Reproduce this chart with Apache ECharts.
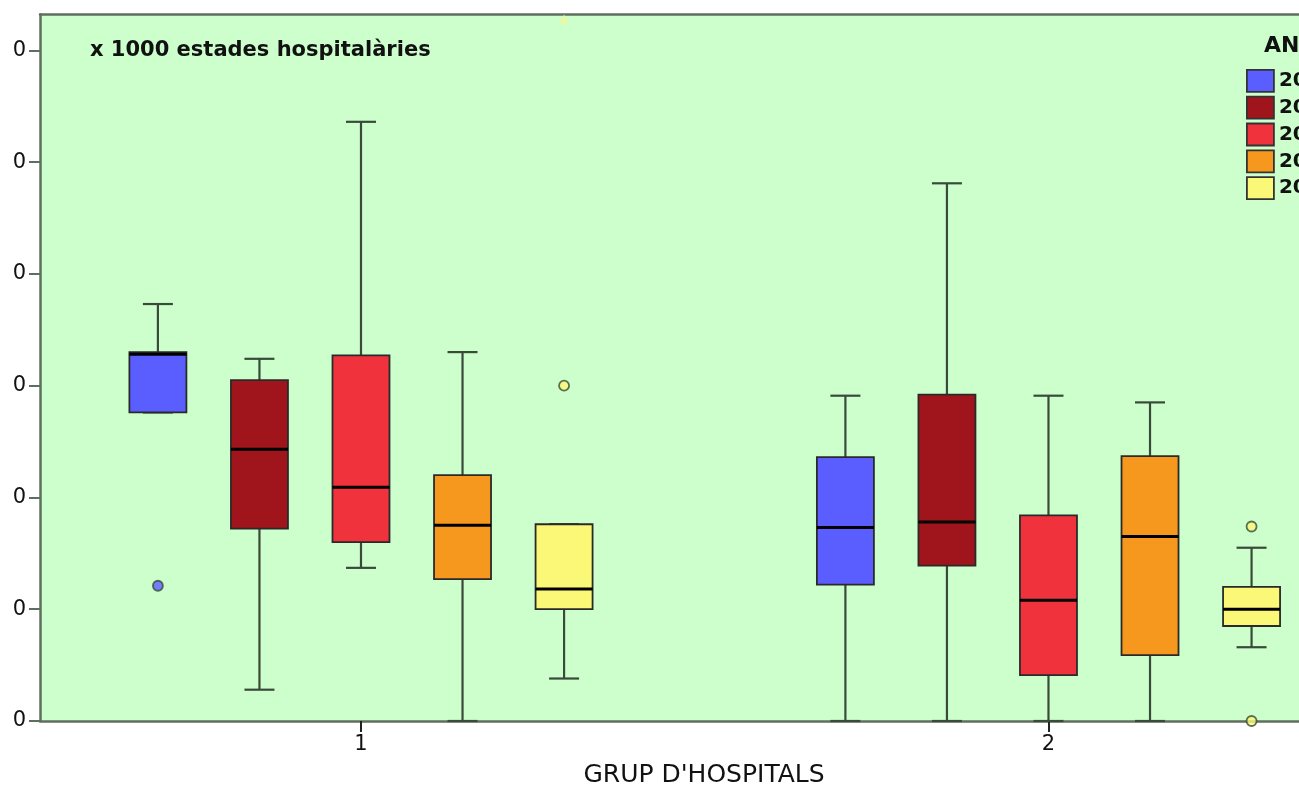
<!DOCTYPE html>
<html>
<head>
<meta charset="utf-8">
<script src="https://cdn.jsdelivr.net/npm/echarts@6/dist/echarts.min.js"></script>
<style>
html,body{margin:0;padding:0;background:#fff;}
#chart{width:1299px;height:786px;}
</style>
</head>
<body>
<div id="chart"></div>
<script>
// ---- data ----
const groups = [1, 2];
const groupLabels = ['1', '2'];
const years = ['2004', '2005', '2006', '2007', '2008'];
const yTicks = [0, 10, 20, 30, 40, 50, 60];
const yTickLabels = ['0', '0', '0', '0', '0', '0', '0'];
// [low, q1, median, q3, high] per group (1, 2)
const box2004 = [[27.6, 27.6, 32.8, 33.0, 37.3], [0, 12.2, 17.3, 23.6, 29.1]];
const box2005 = [[2.8, 17.2, 24.3, 30.5, 32.4], [0, 13.9, 17.8, 29.2, 48.1]];
const box2006 = [[13.7, 16.0, 20.9, 32.7, 53.6], [0, 4.1, 10.8, 18.4, 29.1]];
const box2007 = [[0, 12.7, 17.5, 22.0, 33.0], [0, 5.9, 16.5, 23.7, 28.5]];
const box2008 = [[3.8, 10.0, 11.8, 17.6, 17.6], [6.6, 8.5, 10.0, 12.0, 15.5]];
// outliers: [groupIndex, value]
const out2004 = [[0, 12.1]];
const out2005 = [];
const out2006 = [];
const out2007 = [];
const out2008 = [[0, 30.0], [1, 17.4], [1, 0]];
const extreme2008 = [[0, 62.7]];

const boxes = [box2004, box2005, box2006, box2007, box2008];
const outs = [out2004, out2005, out2006, out2007, out2008];
const colors = ['#5a5eff', '#a0141b', '#f0323c', '#f7981e', '#fbf878'];

// ---- layout ----
const step = 0.1477;           // spacing between year boxes in x units
const xMin = 0.5331, xMax = 2.3644;
const frameColor = '#5f6f5f';
const whiskerColor = '#3a4a3a';

function renderBox(params, api) {
  const x = api.value(0);
  const low = api.coord([x, api.value(1)]);
  const q1 = api.coord([x, api.value(2)]);
  const med = api.coord([x, api.value(3)]);
  const q3 = api.coord([x, api.value(4)]);
  const high = api.coord([x, api.value(5)]);
  const cx = low[0];
  const hw = 28.5, cap = 15;
  const color = api.visual('color');
  const ws = {stroke: whiskerColor, lineWidth: 2.2};
  return {
    type: 'group',
    children: [
      {type: 'line', shape: {x1: cx, y1: low[1], x2: cx, y2: q1[1]}, style: ws},
      {type: 'line', shape: {x1: cx, y1: q3[1], x2: cx, y2: high[1]}, style: ws},
      {type: 'line', shape: {x1: cx - cap, y1: low[1], x2: cx + cap, y2: low[1]}, style: ws},
      {type: 'line', shape: {x1: cx - cap, y1: high[1], x2: cx + cap, y2: high[1]}, style: ws},
      {type: 'rect', shape: {x: cx - hw, y: q3[1], width: hw * 2, height: q1[1] - q3[1]},
        style: {fill: color, stroke: '#2a2a2a', lineWidth: 1.8}},
      {type: 'line', shape: {x1: cx - hw, y1: med[1], x2: cx + hw, y2: med[1]},
        style: {stroke: '#000', lineWidth: 3}}
    ]
  };
}

const series = [];
years.forEach((yr, i) => {
  const off = (i - 2) * step;
  series.push({
    name: yr,
    type: 'custom',
    renderItem: renderBox,
    itemStyle: {color: colors[i]},
    encode: {x: 0, y: [1, 2, 3, 4, 5]},
    data: groups.map((g, gi) => [g + off].concat(boxes[i][gi])),
    z: 3
  });
  if (outs[i].length) {
    series.push({
      name: yr,
      type: 'scatter',
      symbol: 'circle',
      symbolSize: 10,
      itemStyle: {color: colors[i], borderColor: '#3a4a3a', borderWidth: 1.8},
      data: outs[i].map(o => [groups[o[0]] + off, o[1]]),
      z: 4
    });
  }
});
series.push({
  name: years[4],
  type: 'scatter',
  symbol: 'path://M0,-1L0.2245,-0.309L0.9511,-0.309L0.3633,0.118L0.5878,0.809L0,0.382L-0.5878,0.809L-0.3633,0.118L-0.9511,-0.309L-0.2245,-0.309Z',
  symbolSize: 12,
  itemStyle: {color: '#eef7a0', opacity: 0.9},
  data: extreme2008.map(o => [groups[o[0]] + 2 * step, o[1]]),
  z: 4
});

const chart = echarts.init(document.getElementById('chart'), null, {renderer: 'canvas'});
chart.setOption({
  animation: false,
  backgroundColor: '#ffffff',
  grid: {left: 40, right: 0, top: 14.5, bottom: 65, show: true, borderWidth: 0, backgroundColor: '#ccffcc'},
  xAxis: [{
    type: 'value', min: xMin, max: xMax,
    axisLine: {show: true, onZero: false, lineStyle: {color: frameColor, width: 2.5}},
    axisTick: {show: true, customValues: groups, length: 11, lineStyle: {color: '#222', width: 2}},
    axisLabel: {show: true, customValues: groups, margin: 13,
      formatter: v => groupLabels[groups.indexOf(Math.round(v))] || '',
      color: '#111', fontSize: 21, fontFamily: 'DejaVu Sans'},
    splitLine: {show: false}
  }, {
    type: 'value', min: xMin, max: xMax, position: 'top',
    axisLine: {show: true, onZero: false, lineStyle: {color: frameColor, width: 2.5}},
    axisTick: {show: false}, axisLabel: {show: false}, splitLine: {show: false}
  }],
  yAxis: {
    type: 'value', min: 0, max: 63.2,
    axisLine: {show: true, onZero: false, lineStyle: {color: frameColor, width: 2.5}},
    axisTick: {show: true, customValues: yTicks, length: 11, lineStyle: {color: frameColor, width: 2}},
    axisLabel: {show: true, customValues: yTicks, margin: 14,
      formatter: v => yTickLabels[yTicks.indexOf(Math.round(v))] || '',
      color: '#111', fontSize: 21, fontFamily: 'DejaVu Sans'},
    splitLine: {show: false}
  },
  legend: {
    orient: 'vertical', left: 1246, top: 69, padding: 0,
    itemWidth: 27, itemHeight: 22, itemGap: 3,
    textStyle: {fontSize: 20, fontWeight: 'bold', fontFamily: 'DejaVu Sans', color: '#111', lineHeight: 22},
    data: years.map((y, i) => ({name: y, icon: 'rect',
      itemStyle: {color: colors[i], borderColor: '#333', borderWidth: 1.8}}))
  },
  graphic: [
    {type: 'text', left: 90, top: 40, z: 10,
      style: {text: 'x 1000 estades hospitalàries', font: 'bold 21px "DejaVu Sans"', fill: '#111'}},
    {type: 'text', left: 1264, top: 35, z: 10,
      style: {text: 'ANY', font: 'bold 22px "DejaVu Sans"', fill: '#111'}},
    {type: 'text', x: 704, y: 775, z: 10,
      style: {text: "GRUP D'HOSPITALS", font: '25px "DejaVu Sans"', fill: '#111',
        textAlign: 'center', textVerticalAlign: 'middle'}}
  ],
  series: series
});
</script>
</body>
</html>
